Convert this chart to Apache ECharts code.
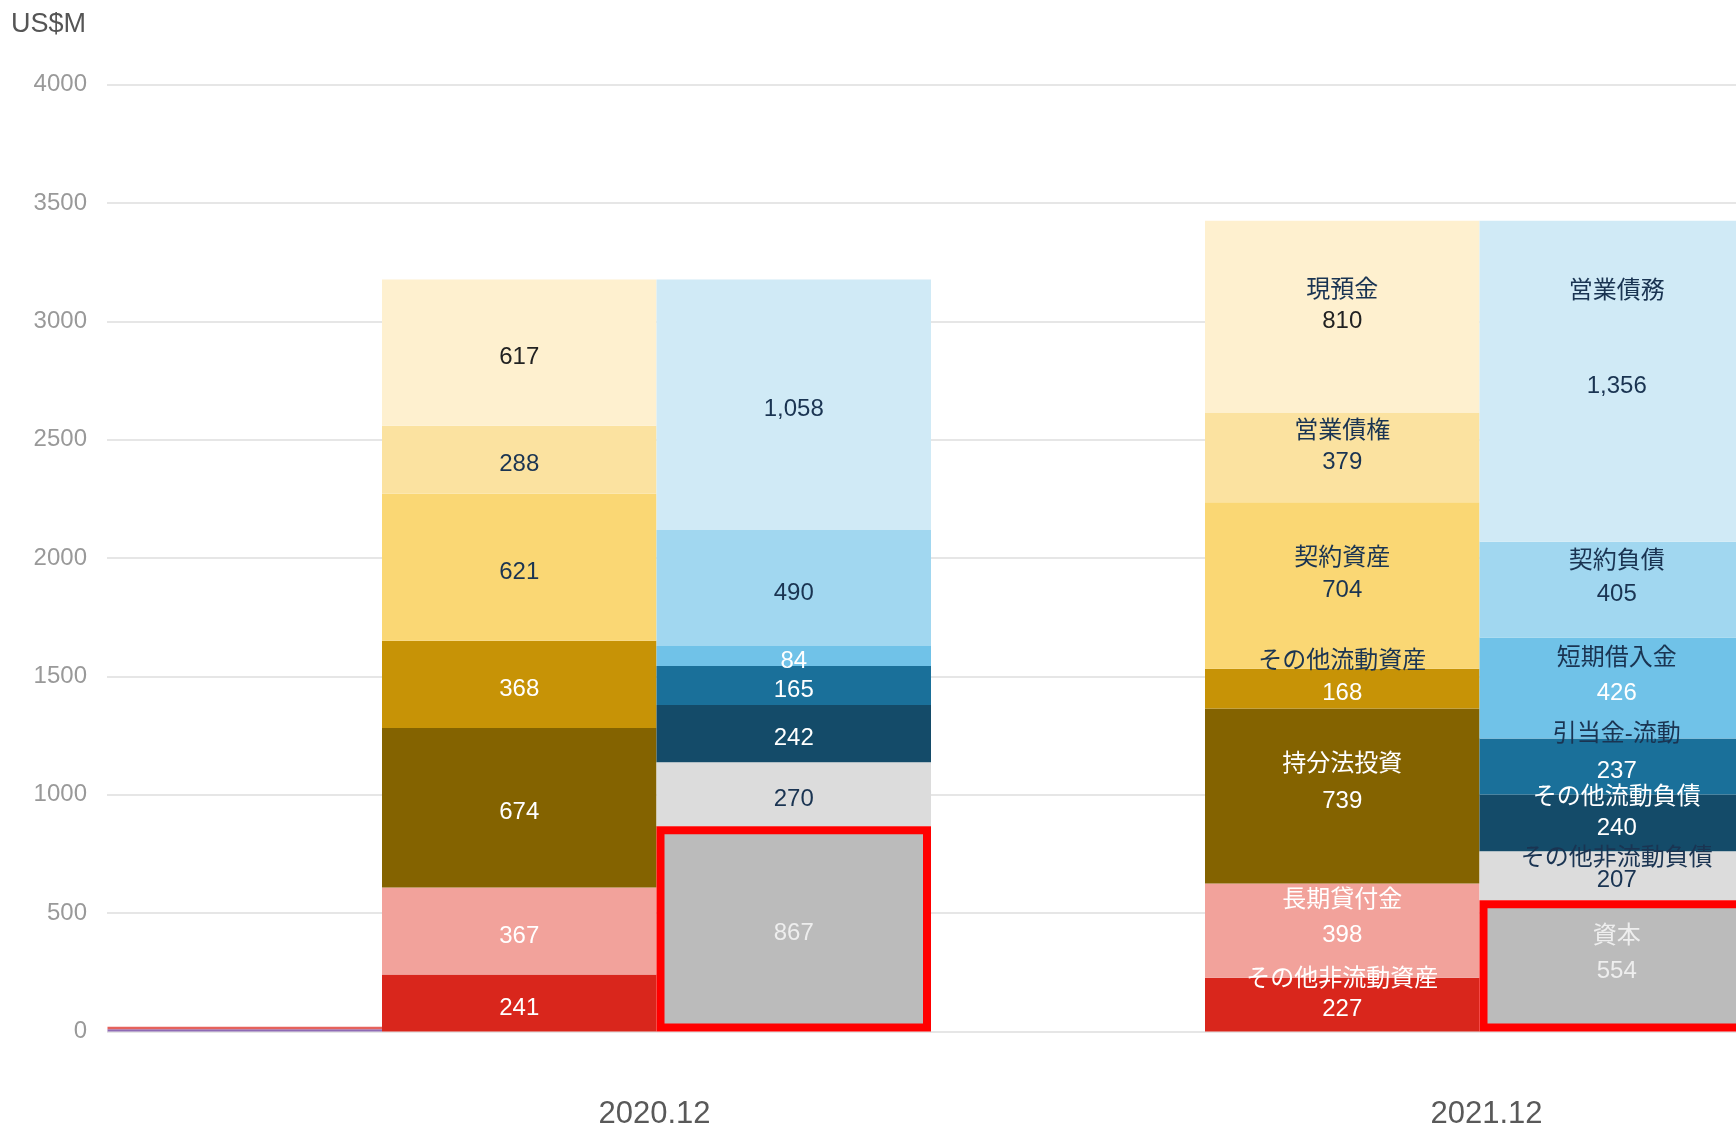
<!DOCTYPE html>
<html>
<head>
<meta charset="utf-8">
<title>B/S</title>
<script src="https://cdn.jsdelivr.net/npm/echarts@6/dist/echarts.min.js"></script>
<style>
  html, body { margin: 0; padding: 0; background: #fff; }
  #chart { width: 1736px; height: 1128px; }
</style>
</head>
<body>
<div id="chart"></div>
<script>
// 期末
const categories = ['2020.12', '2021.12']

// 資産（下から積み上げ）
const assetNames = ['その他非流動資産', '長期貸付金', '持分法投資', 'その他流動資産', '契約資産', '営業債権', '現預金']
const assets2020 = [241, 367, 674, 368, 621, 288, 617]
const assets2021 = [227, 398, 739, 168, 704, 379, 810]

// 負債・資本（下から積み上げ）
const liabilityNames = ['資本', 'その他非流動負債', 'その他流動負債', '引当金-流動', '短期借入金', '契約負債', '営業債務']
const liabilities2020 = [867, 270, 242, 165, 84, 490, 1058]
const liabilities2021 = [554, 207, 240, 237, 426, 405, 1356]

// 左端の細い棒
const minorNames = ['minor-1', 'minor-2']
const minor2020 = [10, 10]
const minor2021 = [null, null]

// 配色
const assetColors = ['#d9261c', '#f2a29b', '#846300', '#c79306', '#fad774', '#fbe2a0', '#fef0cf']
const liabilityColors = ['#bbbbbb', '#dcdcdc', '#144b69', '#1a709a', '#70c2e8', '#a1d7f0', '#d0eaf6']
const minorColors = ['#8e6bb5', '#e5625c']

const DARK = '#1a3452'
const WHITE = '#ffffff'
const PALE = '#eeeeee'
// [名前の色, 数値の色]
const assetLabelColors = [
  [WHITE, WHITE], [WHITE, WHITE], [WHITE, WHITE], [DARK, WHITE],
  [DARK, DARK], [DARK, DARK], [DARK, '#222222']
]
const liabilityLabelColors = [
  [PALE, PALE], [DARK, DARK], [WHITE, WHITE], [DARK, WHITE],
  [DARK, WHITE], [DARK, DARK], [DARK, DARK]
]
// 名前と数値の間隔(px)
const nameGap = {
  '現預金': 31, '営業債権': 31, '契約資産': 32, 'その他流動資産': 32,
  '持分法投資': 37, '長期貸付金': 35, 'その他非流動資産': 30,
  '営業債務': 95, '契約負債': 33, '短期借入金': 35, '引当金-流動': 37,
  'その他流動負債': 31, 'その他非流動負債': 22, '資本': 35
}

const FONT = "'Liberation Sans', 'Noto Sans CJK JP', sans-serif"
const BAR_W = 274.5
const LINE_H = 33

function fmt(v) {
  return Number(v).toLocaleString('en-US')
}

function makeLabel(name, colors) {
  const h = Math.max(2, 2 * ((nameGap[name] || 33) - LINE_H / 2))
  return {
    show: true,
    position: 'inside',
    offset: [0, 5],
    fontFamily: FONT,
    fontSize: 24,
    lineHeight: LINE_H,
    formatter: p => {
      if (p.value == null) return ''
      const v = fmt(p.value)
      if (p.dataIndex === 0) return `{v|${v}}`
      return `{n|${name}}\n{v|${v}}\n{e| }`
    },
    rich: {
      n: { color: colors[0], fontSize: 24, lineHeight: h, fontFamily: FONT },
      v: { color: colors[1], fontSize: 24, lineHeight: LINE_H, fontFamily: FONT },
      e: { fontSize: 24, lineHeight: h, fontFamily: FONT }
    }
  }
}

const common = {
  type: 'bar',
  xAxisIndex: 1,
  yAxisIndex: 1,
  barWidth: BAR_W,
  barGap: '0%',
  clip: false,
  silent: true
}

const series = []

minorNames.forEach((name, i) => {
  series.push({
    ...common,
    name,
    stack: 'minor',
    data: [minor2020[i], minor2021[i]],
    itemStyle: { color: minorColors[i] },
    label: { show: false }
  })
})

assetNames.forEach((name, i) => {
  series.push({
    ...common,
    name,
    stack: 'assets',
    data: [assets2020[i], assets2021[i]],
    itemStyle: { color: assetColors[i] },
    label: makeLabel(name, assetLabelColors[i])
  })
})

liabilityNames.forEach((name, i) => {
  const s = {
    ...common,
    name,
    stack: 'liabilities',
    data: [liabilities2020[i], liabilities2021[i]],
    itemStyle: { color: liabilityColors[i] },
    label: makeLabel(name, liabilityLabelColors[i])
  }
  if (name === '資本') {
    s.itemStyle = { color: liabilityColors[i], borderColor: '#ff0000', borderWidth: 8 }
    s.z = 3
  }
  series.push(s)
})

// 右側の空き枠（配置用）
series.push({ ...common, name: 'spacer', stack: 'spacer', data: [null, null] })

const chart = echarts.init(document.getElementById('chart'), null, { renderer: 'canvas' })

const xLabelStyle = { color: '#595959', fontSize: 31, fontFamily: FONT }

chart.setOption({
  backgroundColor: '#ffffff',
  animation: false,
  title: {
    text: 'US$M',
    left: 6,
    top: 6,
    textStyle: { color: '#555555', fontSize: 27, fontWeight: 'normal', fontFamily: FONT }
  },
  grid: [
    { left: 107, right: 0, top: 84.5, bottom: 96.5, outerBoundsMode: 'none' },
    { left: 245, width: 1646, top: 84.5, bottom: 96.5, outerBoundsMode: 'none' }
  ],
  xAxis: [
    { type: 'category', gridIndex: 0, data: categories, show: false },
    {
      type: 'category',
      gridIndex: 1,
      data: categories,
      axisLine: { show: false },
      axisTick: { show: false },
      axisLabel: {
        ...xLabelStyle,
        margin: 67,
        formatter: (v, i) => (i === 1 ? `{r|${v}}` : `{l|${v}}`),
        rich: {
          l: { ...xLabelStyle, padding: [0, 4, 0, 0] },
          r: { ...xLabelStyle, padding: [0, 0, 0, 14] }
        }
      }
    }
  ],
  yAxis: [
    {
      type: 'value',
      gridIndex: 0,
      min: 0,
      max: 4000,
      interval: 500,
      axisLine: { show: false },
      axisTick: { show: false },
      axisLabel: { color: '#999999', fontSize: 24, margin: 20, fontFamily: FONT, formatter: v => String(v) },
      splitLine: { lineStyle: { color: '#e6e6e6', width: 2 } }
    },
    { type: 'value', gridIndex: 1, min: 0, max: 4000, show: false }
  ],
  series
})
</script>
</body>
</html>
